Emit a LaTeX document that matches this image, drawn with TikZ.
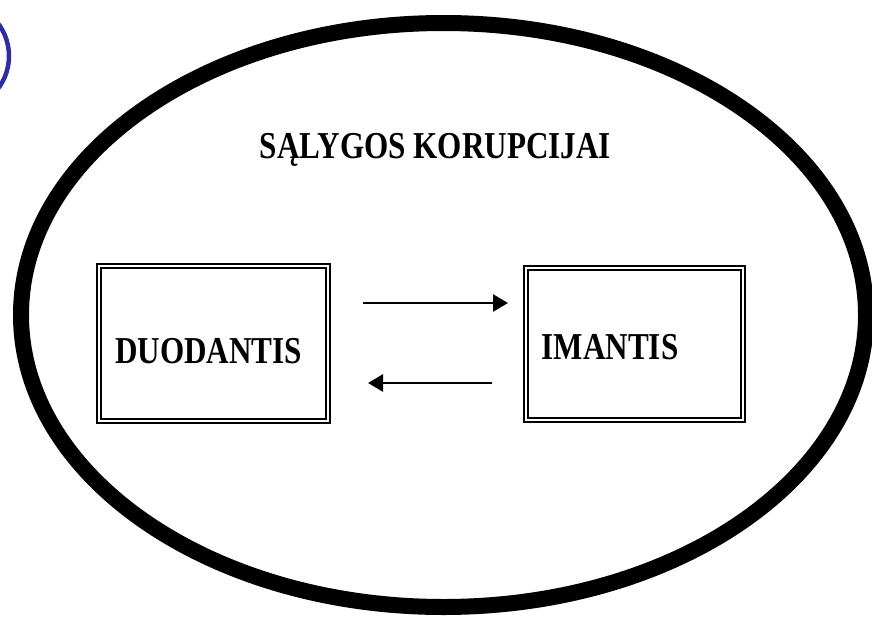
\documentclass[tikz,border=0pt]{standalone}
\usepackage{fontspec}
\setmainfont{Liberation Serif}
\usepackage{graphicx}
\usetikzlibrary{arrows.meta,shapes.geometric}
\definecolor{ringblue}{RGB}{46,46,158}
\tikzset{
  dbox/.style={draw=black, line width=1.6pt, double=white, double distance=2.6pt, rectangle, inner sep=0pt},
  lbl/.style={anchor=base, inner sep=0pt, font=\fontsize{38}{40}\selectfont\bfseries},
  arr/.style={line width=2.6pt, -{Triangle[length=15pt,width=17pt]}},
}
\newcommand{\sq}[1]{\scalebox{0.82}[1]{#1}}
\begin{document}
\begin{tikzpicture}[x=1pt,y=-1pt]
\useasboundingbox (0,0) rectangle (872,616);
% blue ring fragment
\draw[ringblue, line width=4.5pt] (-45,56) circle[radius=54];
% big ellipse
\node (oval) [draw=black, line width=16pt, ellipse, minimum width=845pt, minimum height=584pt, inner sep=0pt] at (443.5,315) {};
% title
\node (title) [lbl] at (435.5,158) {\sq{SĄLYGOS KORUPCIJAI}};
% boxes
\node (duo) [dbox, minimum width=229pt, minimum height=155pt] at (213.5,343.5) {};
\node (ima) [dbox, minimum width=217pt, minimum height=152pt] at (634.5,344) {};
\node (duot) [lbl] at (208.5,363) {\sq{DUODANTIS}};
\node (imat) [lbl] at (610,359) {\sq{IMANTIS}};
% arrows
\coordinate (a1s) at (363,303);
\coordinate (a1e) at (508,303);
\coordinate (a2s) at (492,383);
\coordinate (a2e) at (368,383);
\draw[arr] (a1s) -- (a1e);
\draw[arr] (a2s) -- (a2e);
\end{tikzpicture}
\end{document}
